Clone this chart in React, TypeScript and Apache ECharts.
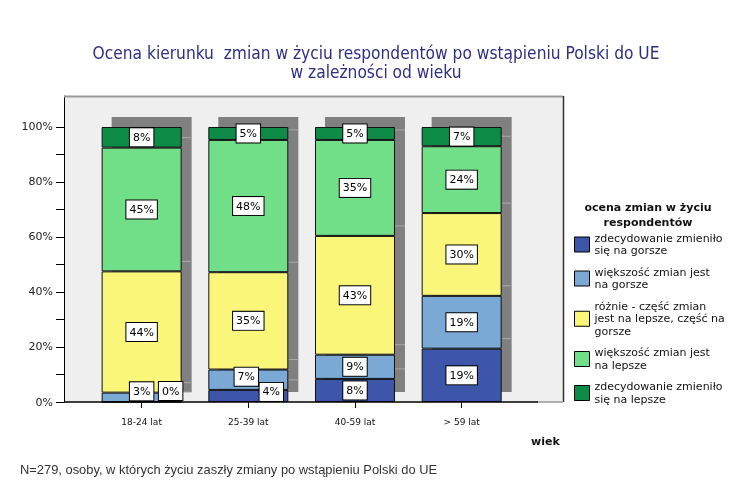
import React, { useEffect, useRef } from "react";
import * as echarts from "echarts";

const categories = ["18-24 lat", "25-39 lat", "40-59 lat", "> 59 lat"];
const seriesNames = [
  "zdecydowanie zmieniło\nsię na gorsze",
  "większość zmian jest\nna gorsze",
  "różnie - część zmian\njest na lepsze, część na\ngorsze",
  "większość zmian jest\nna lepsze",
  "zdecydowanie zmieniło\nsię na lepsze",
];
const decidedlyWorse = [0, 4.4, 8.4, 19.4];
const mostlyWorse = [3.4, 7.4, 8.8, 19.2];
const mixed = [44.1, 35.4, 43.2, 30.1];
const mostlyBetter = [45.0, 48.1, 34.9, 24.3];
const decidedlyBetter = [7.5, 4.7, 4.7, 7.0];
const yTicks = [0, 10, 20, 30, 40, 50, 60, 70, 80, 90, 100];
const yLabels = [0, 20, 40, 60, 80, 100];

const allSeries = [decidedlyWorse, mostlyWorse, mixed, mostlyBetter, decidedlyBetter];
const colors = ["#3D56A9", "#7AA9D6", "#F9F67A", "#71DE88", "#0E8C47"];
// label offsets for small segments (series index - category index -> [dx, dy])
const labelOffsets: Record<string, number[]> = {
  "0-0": [29, -11],
  "1-0": [0, -6],
  "0-1": [23, -4],
  "1-1": [-2, -3],
};

export default function App() {
  const ref = useRef<HTMLDivElement>(null);
  useEffect(() => {
    if (!ref.current) return;
    const chart = echarts.init(ref.current, null, { renderer: "svg" });
    const font = "DejaVu Sans";
    const BW = 80;
    const OFF = 10;

    const shadowData = categories.map((_, i) => {
      let c = 0;
      const cum: number[] = [];
      allSeries.forEach((s) => {
        c += s[i];
        cum.push(c);
      });
      return [i, c, ...cum.slice(0, cum.length - 1)];
    });

    const barSeries = allSeries.map((vals, si) => ({
      type: "bar",
      name: seriesNames[si],
      stack: "total",
      barWidth: BW,
      z: 3,
      itemStyle: { color: colors[si], borderColor: "#111", borderWidth: 1 },
      label: {
        show: true,
        position: "inside",
        formatter: (p: any) => Math.round(p.value) + "%",
        color: "#000",
        fontFamily: font,
        fontSize: 11,
        backgroundColor: "#fff",
        borderColor: "#000",
        borderWidth: 1,
        padding: [4, 3, 3, 3],
      },
      data: vals.map((v, ci) => {
        const off = labelOffsets[`${si}-${ci}`];
        return off ? { value: v, label: { offset: off } } : { value: v };
      }),
    }));

    chart.setOption({
      animation: false,
      title: {
        text: "Ocena kierunku  zmian w życiu respondentów po wstąpieniu Polski do UE\nw zależności od wieku",
        left: "center",
        top: 38,
        textStyle: {
          fontFamily: "DejaVu Sans Condensed, Liberation Sans",
          fontSize: 17.2,
          fontWeight: "normal",
          color: "#2E2F80",
          lineHeight: 19,
        },
      },
      legend: {
        orient: "vertical",
        left: 569,
        top: 227,
        itemWidth: 15,
        itemHeight: 15,
        itemGap: 9,
        icon: "rect",
        itemStyle: { borderColor: "#000", borderWidth: 1 },
        textStyle: { fontFamily: font, fontSize: 11, lineHeight: 12.5, color: "#111" },
        data: seriesNames,
      },
      grid: { left: 88.3, right: 237, top: 96, bottom: 98 },
      xAxis: {
        type: "category",
        data: categories,
        boundaryGap: true,
        splitLine: { show: false },
        axisLine: { show: false },
        axisTick: { show: true, alignWithLabel: true, length: 6, lineStyle: { color: "#000" } },
        axisLabel: {
          fontFamily: font,
          fontSize: 9,
          color: "#111",
          margin: 15,
        },
      },
      yAxis: {
        type: "value",
        min: 0,
        max: 111.27,
        offset: 24.3,
        splitLine: { show: false },
        axisLine: { show: true, onZero: false, lineStyle: { color: "#000", width: 1 } },
        axisTick: { show: true, customValues: yTicks, length: 8, lineStyle: { color: "#000" } },
        axisLabel: {
          customValues: yLabels,
          formatter: (v: number) => v + "%",
          fontFamily: font,
          fontSize: 11,
          color: "#222",
          margin: 11,
        },
      },
      graphic: [
        { type: "rect", z: 0, shape: { x: 64, y: 96, width: 499, height: 306 }, style: { fill: "#EFEFEF" } },
        { type: "line", z: 1, shape: { x1: 64, y1: 96.5, x2: 563, y2: 96.5 }, style: { stroke: "#999", lineWidth: 2 } },
        { type: "line", z: 1, shape: { x1: 563.5, y1: 96, x2: 563.5, y2: 402 }, style: { stroke: "#333", lineWidth: 1.5 } },
        { type: "line", z: 1, shape: { x1: 538, y1: 402, x2: 563, y2: 402 }, style: { stroke: "#999", lineWidth: 1.5 } },
        { type: "line", z: 5, shape: { x1: 64, y1: 402, x2: 538, y2: 402 }, style: { stroke: "#000", lineWidth: 1.5 } },
        {
          type: "text",
          z: 10,
          style: {
            text: "ocena zmian w życiu\nrespondentów",
            x: 648,
            y: 200,
            align: "center",
            fontFamily: font,
            fontSize: 11,
            fontWeight: "bold",
            lineHeight: 15,
            fill: "#111",
          },
        },
        {
          type: "text",
          z: 10,
          style: { text: "wiek", x: 531, y: 436, fontFamily: font, fontSize: 11, fontWeight: "bold", fill: "#111" },
        },
        {
          type: "text",
          z: 10,
          style: {
            text: "N=279, osoby, w których życiu zaszły zmiany po wstąpieniu Polski do UE",
            x: 20,
            y: 463,
            fontFamily: "Liberation Sans",
            fontSize: 12.9,
            fill: "#333",
          },
        },
      ],
      series: [
        {
          type: "custom",
          z: 1,
          silent: true,
          encode: { x: 0, y: 1 },
          data: shadowData,
          renderItem: (params: any, api: any) => {
            const x = api.value(0);
            const total = api.value(1);
            const base = api.coord([x, 0]);
            const top = api.coord([x, total]);
            const children: any[] = [
              {
                type: "rect",
                shape: { x: base[0] - BW / 2 + OFF, y: top[1] - OFF, width: BW, height: base[1] - top[1] },
                style: { fill: "#808080" },
              },
            ];
            for (let k = 2; k < 6; k++) {
              const p = api.coord([x, api.value(k)]);
              children.push({
                type: "line",
                shape: { x1: base[0] + BW / 2, y1: p[1] - OFF, x2: base[0] + BW / 2 + OFF, y2: p[1] - OFF },
                style: { stroke: "#A8A8A8", lineWidth: 1 },
              });
            }
            return { type: "group", children };
          },
        },
        ...barSeries,
      ],
    });
    return () => chart.dispose();
  }, []);
  return <div ref={ref} style={{ position: "fixed", left: 0, top: 0, width: 752, height: 500 }} />;
}
